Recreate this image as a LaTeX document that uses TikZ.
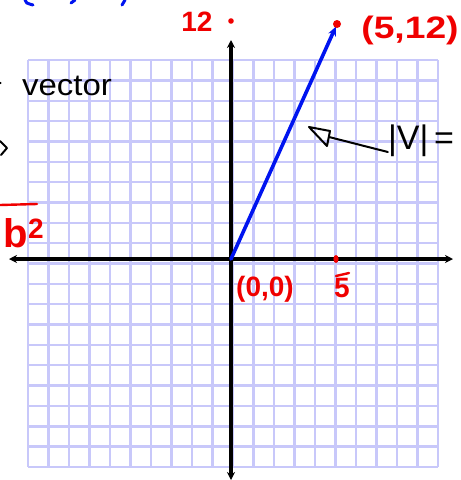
\documentclass[tikz,border=0pt]{standalone}
\usepackage{fontspec}
\setmainfont{Liberation Sans}
\usetikzlibrary{arrows.meta}
\definecolor{gridc}{RGB}{200,200,250}
\definecolor{pen}{RGB}{240,0,0}
\definecolor{vec}{RGB}{0,20,240}
\tikzset{
  gridline/.style={gridc, line width=2.4pt},
  axis/.style={black, line width=3.4pt, -{Stealth[length=8pt,width=8pt]}},
  redlbl/.style={pen, inner sep=0pt},
  blacklbl/.style={black, inner sep=0pt},
  ink/.style={line width=2pt, line cap=round, line join=round},
  reddot/.style={fill=pen, draw=none},
}
\begin{document}
\begin{tikzpicture}[x=1pt,y=-1pt]
\useasboundingbox (0,0) rectangle (461,480);
\fill[white] (0,0) rectangle (461,480);
% grid 20 x 20
\foreach \i in {0,...,20} {
  \draw[gridline] ({28+20.5*\i},60) -- ({28+20.5*\i},467);
  \draw[gridline] (28,{60+20.35*\i}) -- (438,{60+20.35*\i});
}
% axes
\coordinate (O) at (231,259);
\coordinate (xl) at (9,259);
\coordinate (xr) at (453,259);
\coordinate (yt) at (231,40);
\coordinate (yb) at (231,480);
\draw[axis] (O) -- (xr);
\draw[axis] (O) -- (xl);
\draw[axis] (O) -- (yt);
\draw[axis] (O) -- (yb);
% vector
\coordinate (P) at (337,24);
\draw[vec, line width=3.6pt, line cap=round, -{Stealth[length=9pt,width=8pt]}, shorten >=3pt] (O) -- (P);
\fill[reddot] (P) circle (4pt);
% points on axes
\coordinate (Y12) at (231,21);
\fill[reddot] (Y12) circle (2.8pt);
\coordinate (X5) at (336,259);
\fill[reddot] (X5) ellipse (2.6pt and 4pt);
% labels
\node[redlbl, font=\fontsize{28}{28}\bfseries] (l12) at (197,22) {12};
\node[redlbl, font=\fontsize{31}{31}\bfseries] (l512) at (410,30) {\scalebox{1.2}[1]{(5,12)}};
\node[redlbl, font=\fontsize{28}{28}\bfseries] (l00) at (265,289) {(0,0)};
\node[redlbl, font=\fontsize{28}{28}\bfseries] (l5) at (342,288) {5};
\draw[pen, ink, line width=2.4pt] (336,276) -- (349,273);
\node[blacklbl, font=\fontsize{30}{30}\selectfont] (lvec) at (67,86) {\scalebox{1.1}[1]{vector}};
\node[blacklbl, font=\fontsize{34}{34}\selectfont] (lv) at (421,141) {|V|\,=};
% annotation arrow
\coordinate (tipA) at (329,137);
\draw[black, ink] (lv.west) ++(0,11) -- (tipA);
\draw[black, ink] (309,127) -- (330,131) -- (327,146) -- cycle;
% b^2 at left
\node[redlbl, font=\fontsize{40}{40}\bfseries] (lb) at (24,233) {b\textsuperscript{2}};
\draw[pen, ink, line width=2.4pt] (0,205) -- (37,204);
% cut-off marks at the left edge
\draw[black, ink] (0,141) -- (7,148) -- (1,155);
\fill[black] (0.5,83) circle (1.2pt);
% cut-off blue strokes at the top
\draw[vec, line width=3pt, line cap=round] (25,0) .. controls (26,3) .. (33,5);
\draw[vec, line width=3pt, line cap=round] (75,0) -- (71,3);
\draw[vec, line width=3pt, line cap=round] (125,0) -- (122,5);
\end{tikzpicture}
\end{document}
